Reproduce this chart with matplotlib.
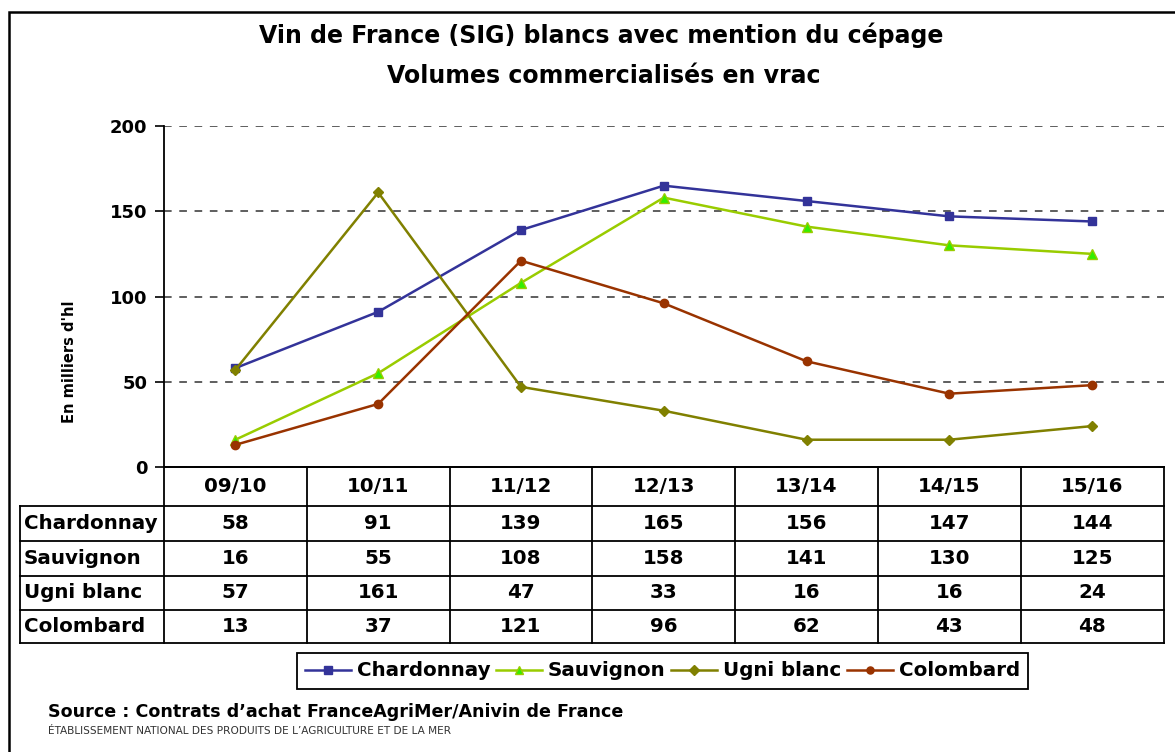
import matplotlib
matplotlib.use('Agg')
import matplotlib.pyplot as plt
from matplotlib.patches import Rectangle

# ---------------- data ----------------
categories = ['09/10', '10/11', '11/12', '12/13', '13/14', '14/15', '15/16']
series_names = ['Chardonnay', 'Sauvignon', 'Ugni blanc', 'Colombard']
chardonnay = [58, 91, 139, 165, 156, 147, 144]
sauvignon = [16, 55, 108, 158, 141, 130, 125]
ugni_blanc = [57, 161, 47, 33, 16, 16, 24]
colombard = [13, 37, 121, 96, 62, 43, 48]
y_ticks = [0, 50, 100, 150, 200]

title_1 = 'Vin de France (SIG) blancs avec mention du cépage'
title_2 = 'Volumes commercialisés en vrac'
y_label = "En milliers d'hl"
source_txt = 'Source : Contrats d’achat FranceAgriMer/Anivin de France'
small_txt = 'ÉTABLISSEMENT NATIONAL DES PRODUITS DE L’AGRICULTURE ET DE LA MER'

# ---------------- styles ----------------
styles = [
    dict(color='#333399', marker='s', markersize=6, mfc='#333399', mec='#333399'),
    dict(color='#99CC00', marker='^', markersize=7, mfc='#33EE00', mec='#99CC00'),
    dict(color='#808000', marker='D', markersize=5.5, mfc='#808000', mec='#808000'),
    dict(color='#993300', marker='o', markersize=6, mfc='#993300', mec='#993300'),
]

plt.rcParams['font.family'] = ['DejaVu Sans']
W, H = 1175, 752
fig = plt.figure(figsize=(W / 100, H / 100), dpi=100)


def fx(px):
    return px / W


def fy(py):
    return 1 - py / H


L, R = 164, 1163.5
T, B = 126, 467
ax = fig.add_axes([fx(L), fy(B), (R - L) / W, (B - T) / H])

all_values = [chardonnay, sauvignon, ugni_blanc, colombard]
xs = list(range(len(categories)))
for name, vals, st in zip(series_names, all_values, styles):
    ax.plot(xs, vals, label=name, linewidth=1.8, zorder=3, **st)

ax.set_xlim(-0.5, len(categories) - 0.5)
ax.set_ylim(0, 200)
ax.set_yticks(y_ticks)
ax.set_xticks([])
for s in ['top', 'right']:
    ax.spines[s].set_visible(False)
for s in ['left', 'bottom']:
    ax.spines[s].set_color('black')
    ax.spines[s].set_linewidth(1.3)
ax.yaxis.grid(True, color='#333333', linestyle=(0, (5, 5)), linewidth=1.1)
ax.set_axisbelow(True)
ax.tick_params(axis='y', direction='out', length=6.5, width=1.2, labelsize=13, pad=5.5)
for lbl in ax.get_yticklabels():
    lbl.set_fontweight('bold')

# ---------------- data table ----------------
row_lines = [467, 506, 541, 576, 610, 643]
tab = fig.add_axes([fx(L), fy(row_lines[-1]), (R - L) / W, (row_lines[-1] - row_lines[0]) / H])
tab.set_xlim(-0.5, len(categories) - 0.5)
tab.set_ylim(row_lines[-1], row_lines[0])
tab.axis('off')
cw = (R - L) / len(categories)
label_left = -0.5 - (L - 20) / cw
lk = dict(color='black', linewidth=1.3, clip_on=False, solid_capstyle='projecting')
for i in range(len(categories) + 1):
    tab.plot([-0.5 + i, -0.5 + i], [row_lines[0], row_lines[-1]], **lk)
tab.plot([label_left, label_left], [row_lines[1], row_lines[-1]], **lk)
tab.plot([-0.5, len(categories) - 0.5], [row_lines[0], row_lines[0]], **lk)
for y in row_lines[1:]:
    tab.plot([label_left, len(categories) - 0.5], [y, y], **lk)

fs_tab = 14.3
hc = (row_lines[0] + row_lines[1]) / 2
for i, c in enumerate(categories):
    tab.text(i, hc, c, ha='center', va='center', fontsize=fs_tab, fontweight='bold')
for r, (name, vals) in enumerate(zip(series_names, all_values)):
    yc = (row_lines[r + 1] + row_lines[r + 2]) / 2
    tab.text(label_left + 4 / cw, yc, name, ha='left', va='center',
             fontsize=fs_tab, fontweight='bold', clip_on=False)
    for i, v in enumerate(vals):
        tab.text(i, yc, str(v), ha='center', va='center', fontsize=fs_tab, fontweight='bold')

# ---------------- legend ----------------
handles, labels = ax.get_legend_handles_labels()
leg = fig.legend(handles, labels, loc='center', bbox_to_anchor=(fx(662.5), fy(671)),
                 ncol=4, frameon=True, fancybox=False, edgecolor='black', framealpha=1,
                 prop=dict(weight='bold', size=14.3), handlelength=2.3, handletextpad=0.3,
                 columnspacing=0.3, borderpad=0.42, borderaxespad=0, markerscale=0.85)
leg.get_frame().set_linewidth(1.3)

# ---------------- texts ----------------
fig.text(fx(601), fy(35), title_1, ha='center', va='center', fontsize=17, fontweight='bold')
fig.text(fx(604), fy(76), title_2, ha='center', va='center', fontsize=17, fontweight='bold')
fig.text(fx(70), fy(362), y_label, ha='center', va='center', rotation=90,
         fontsize=10.5, fontweight='bold')
fig.text(fx(48), fy(712), source_txt, ha='left', va='center', fontsize=12.6, fontweight='bold')
fig.text(fx(48), fy(731), small_txt, ha='left', va='center', fontsize=7.6, color='#333333')

# outer frame
fig.patches.append(Rectangle((fx(9), fy(800)), 1.5, fy(12) - fy(800), transform=fig.transFigure,
                             fill=False, edgecolor='black', linewidth=1.8))

fig.savefig('out.png', dpi=100)
